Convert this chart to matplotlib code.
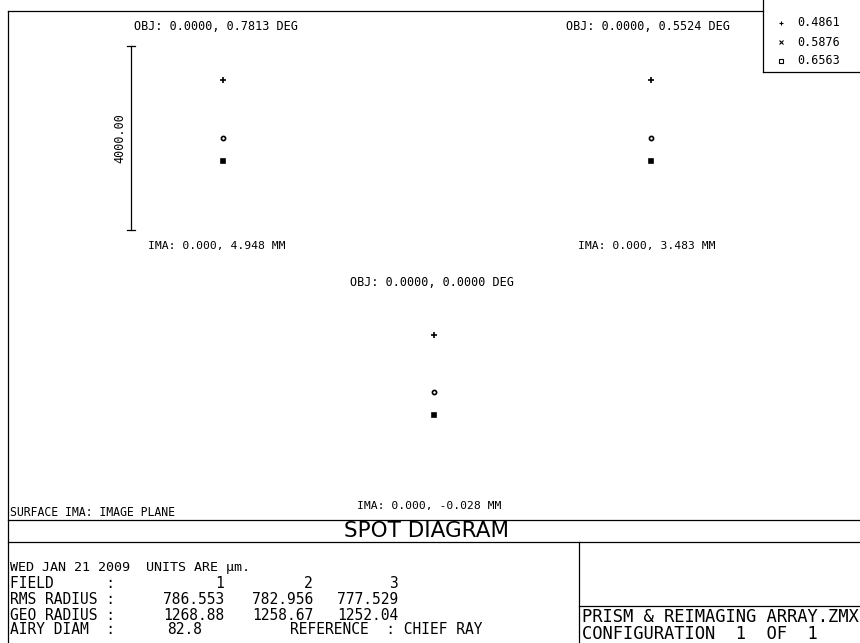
import matplotlib
matplotlib.use("Agg")
from matplotlib import pyplot as plt

# spot diagram data (units are um, relative to chief ray)
wavelengths = ["0.4861", "0.5876", "0.6563"]
field_obj = ["0.0000, 0.7813", "0.0000, 0.5524", "0.0000, 0.0000"]
field_ima = ["0.000, 4.948", "0.000, 3.483", "0.000, -0.028"]
spot_x = [[0, 0, 0], [0, 0, 0], [0, 0, 0]]
spot_y = [[1268.9, 0, -496], [1258.7, 0, -505], [1252.0, 0, -496]]
rms_radius = ["786.553", "782.956", "777.529"]
geo_radius = ["1268.88", "1258.67", "1252.04"]
airy_diam = "82.8"
box_size = 4000.0  # scale bar, um

# look of each wavelength
spot_markers = ["+", "o", "s"]
spot_sizes = [4.5, 3, 3.5]
spot_fill = ["k", "none", "k"]
leg_markers = ["+", "x", "s"]
leg_sizes = [3, 3, 2.8]

W, H = 860, 643
fig = plt.figure(figsize=(W / 100, H / 100), dpi=100)
bg = fig.add_axes([0, 0, 1, 1])
bg.set_xlim(0, W)
bg.set_ylim(H, 0)
bg.axis("off")

mono = "DejaVu Sans Mono"
lw = 0.9

# frame lines
bg.plot([8, 8], [11, H], color="k", lw=lw)
bg.plot([8, 763], [11, 11], color="k", lw=lw)
bg.plot([763, 763], [0, 72], color="k", lw=lw)
bg.plot([763, W], [72, 72], color="k", lw=lw)
bg.plot([8, W], [520, 520], color="k", lw=lw)
bg.plot([8, W], [542, 542], color="k", lw=lw)
bg.plot([579, 579], [542, H], color="k", lw=lw)
bg.plot([579, W], [606, 606], color="k", lw=lw)

# legend
for i, wl in enumerate(wavelengths):
    y = 23 + 19 * i
    bg.plot([781], [y], marker=leg_markers[i], ms=leg_sizes[i], color="k",
            mfc="none", mew=0.8, ls="none")
    bg.text(797, y, wl, fontsize=8.5, family=mono, va="center", ha="left")

# one small axes per field, centred on the chief ray
centres = [(223, 138), (651, 138), (434, 392)]
box_px = 183.4
obj_pos = [(134, 26), (566, 26), (350, 283)]
ima_pos = [(148, 246), (578, 246), (357, 506)]

for f, (cx, cy) in enumerate(centres):
    ax = fig.add_axes([(cx - box_px / 2) / W, 1 - (cy + box_px / 2) / H,
                       box_px / W, box_px / H])
    ax.set_xlim(-box_size / 2, box_size / 2)
    ax.set_ylim(-box_size / 2, box_size / 2)
    ax.axis("off")
    for i in range(len(wavelengths)):
        ax.plot(spot_x[f][i], spot_y[f][i], marker=spot_markers[i],
                ms=spot_sizes[i], color="k", mfc=spot_fill[i], mew=1.2,
                ls="none")
    if f == 0:
        # scale bar on the left side of the first box
        ax.plot([-box_size / 2, -box_size / 2], [-box_size / 2, box_size / 2],
                color="k", lw=lw, clip_on=False)
        for yy in [-box_size / 2, box_size / 2]:
            ax.plot([-box_size / 2 - 90, -box_size / 2 + 90], [yy, yy],
                    color="k", lw=lw, clip_on=False)
        ax.text(-box_size / 2 - 250, 0, "%.2f" % box_size, rotation=90,
                fontsize=8.5, family=mono, ha="center", va="center")
    bg.text(obj_pos[f][0], obj_pos[f][1], "OBJ: %s DEG" % field_obj[f],
            fontsize=8.5, family=mono, va="center", ha="left")
    bg.text(ima_pos[f][0], ima_pos[f][1], "IMA: %s MM" % field_ima[f],
            fontsize=8.2, family=mono, va="center", ha="left")

bg.text(10, 513, "SURFACE IMA: IMAGE PLANE", fontsize=8.3, family=mono,
        va="center", ha="left")
bg.text(427, 531, "SPOT DIAGRAM", fontsize=15.5, family="DejaVu Sans",
        va="center", ha="center")

# bottom table
fs = 10.5
bg.text(10, 568, "WED JAN 21 2009  UNITS ARE \u00b5m.", fontsize=9.6,
        family=mono, va="center", ha="left")
rows = [("FIELD      :", ["1", "2", "3"], 583),
        ("RMS RADIUS :", rms_radius, 599),
        ("GEO RADIUS :", geo_radius, 615)]
col_x = [224, 313, 398]
for label, vals, y in rows:
    bg.text(10, y, label, fontsize=fs, family=mono, va="center", ha="left")
    for x, v in zip(col_x, vals):
        bg.text(x, y, v, fontsize=fs, family=mono, va="center", ha="right")
bg.text(10, 630, "AIRY DIAM  :", fontsize=fs, family=mono, va="center", ha="left")
bg.text(167, 630, airy_diam, fontsize=fs, family=mono, va="center", ha="left")
bg.text(290, 630, "REFERENCE  : CHIEF RAY", fontsize=fs, family=mono,
        va="center", ha="left")

bg.text(582, 617, "PRISM & REIMAGING ARRAY.ZMX", fontsize=12.3, family=mono,
        va="center", ha="left")
bg.text(582, 634, "CONFIGURATION  1  OF  1", fontsize=12.3, family=mono,
        va="center", ha="left")

fig.savefig("out.png", dpi=100)
